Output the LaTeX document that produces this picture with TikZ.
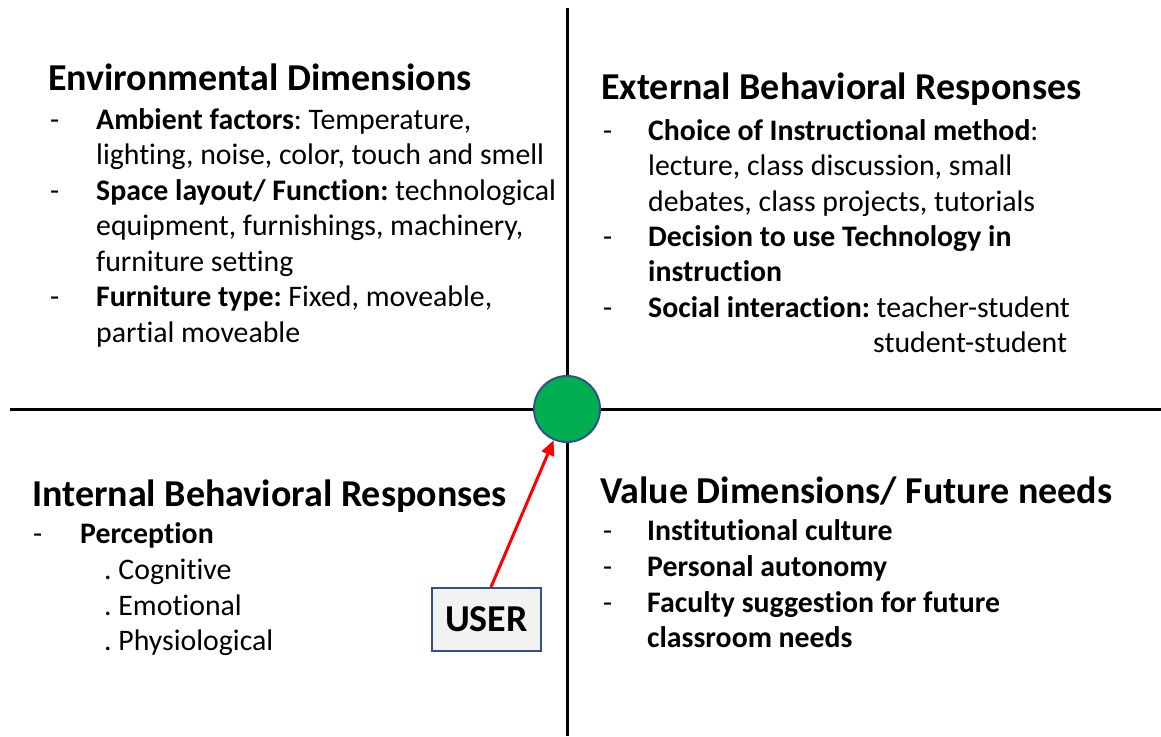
\documentclass[tikz,border=0pt]{standalone}
\usepackage{fontspec}
\setmainfont{Carlito}[Ligatures=NoCommon]
\usepackage{tikz}
\usetikzlibrary{arrows.meta, positioning}
\usepackage{xcolor}
\definecolor{hubgreen}{HTML}{00B050}
\definecolor{boxblue}{HTML}{2F528F}
\definecolor{boxgray}{HTML}{F2F2F2}
\newcommand{\headfont}{\fontsize{38}{42}\selectfont\bfseries}
\newcommand{\bodyfont}{\fontsize{29.8}{35}\selectfont}
\frenchspacing

\begin{document}
\begin{tikzpicture}[
    x=1pt, y=-1pt,
    head/.style={anchor=base west, inner sep=0pt, font=\headfont},
    item/.style={anchor=base west, inner sep=0pt, font=\bodyfont},
    axisline/.style={line width=3pt, black},
    hub/.style={circle, fill=hubgreen, draw=boxblue, line width=2pt, minimum size=66pt, inner sep=0pt},
    userbox/.style={rectangle, draw=boxblue, fill=boxgray, line width=2pt, minimum width=109pt, minimum height=63pt, font=\headfont},
    arrow/.style={-{Triangle[length=15pt, width=13pt]}, line width=3pt, red}
]
    \useasboundingbox (0,0) rectangle (1161,736);

    % Axes
    \coordinate (vtop) at (567,8);
    \coordinate (vbot) at (567,736);
    \coordinate (hleft) at (10,409);
    \coordinate (hright) at (1161,409);
    \draw[axisline] (vtop) -- (vbot);
    \draw[axisline] (hleft) -- (hright);

    % Centre and user
    \node[hub] (centre) at (567,409) {};
    \node[userbox] (user) at (486.5,619.5) {USER};
    \draw[arrow] ([xshift=4.5pt]user.north) -- (centre);

    % Environmental Dimensions
    \node[head] (env) at (48,90) {Environmental Dimensions};
    \node[item] (envd1) at (50,129) {-};
    \node[item] (env1) at (96,129) {\textbf{Ambient factors}: Temperature,};
    \node[item] (env1b) at (96,164.5) {lighting, noise, color, touch and smell};
    \node[item] (envd2) at (50,200) {-};
    \node[item] (env2) at (96,200) {\textbf{Space layout/ Function:} technological};
    \node[item] (env2b) at (96,235) {equipment, furnishings, machinery,};
    \node[item] (env2c) at (96,271) {furniture setting};
    \node[item] (envd3) at (50,306) {-};
    \node[item] (env3) at (96,306) {\textbf{Furniture type:} Fixed, moveable,};
    \node[item] (env3b) at (96,342) {partial moveable};

    % External Behavioral Responses
    \node[head] (ext) at (601,99) {External Behavioral Responses};
    \node[item] (extd1) at (603,140) {-};
    \node[item] (ext1) at (648,140) {\textbf{Choice of Instructional method}:};
    \node[item] (ext1b) at (648,175.5) {lecture, class discussion, small};
    \node[item] (ext1c) at (648,211) {debates, class projects, tutorials};
    \node[item] (extd2) at (603,246) {-};
    \node[item] (ext2) at (648,246) {\textbf{Decision to use Technology in}};
    \node[item] (ext2b) at (648,281.5) {\textbf{instruction}};
    \node[item] (extd3) at (603,317) {-};
    \node[item] (ext3) at (648,317) {\textbf{Social interaction:} teacher-student};
    \node[item] (ext3b) at (873,352.5) {student-student};

    % Internal Behavioral Responses
    \node[head] (int) at (32,506) {Internal Behavioral Responses};
    \node[item] (intd1) at (33,543) {-};
    \node[item] (int1) at (80,543) {\textbf{Perception}};
    \node[item] (int1a) at (104,579) {. Cognitive};
    \node[item] (int1b) at (104,615) {. Emotional};
    \node[item] (int1c) at (104,650) {. Physiological};

    % Value Dimensions/ Future needs
    \node[head] (val) at (600,503) {Value Dimensions/ Future needs};
    \node[item] (vald1) at (603,540) {-};
    \node[item] (val1) at (647,540) {\textbf{Institutional culture}};
    \node[item] (vald2) at (603,576) {-};
    \node[item] (val2) at (647,576) {\textbf{Personal autonomy}};
    \node[item] (vald3) at (603,612) {-};
    \node[item] (val3) at (647,612) {\textbf{Faculty suggestion for future}};
    \node[item] (val3b) at (647,647) {\textbf{classroom needs}};
\end{tikzpicture}
\end{document}
